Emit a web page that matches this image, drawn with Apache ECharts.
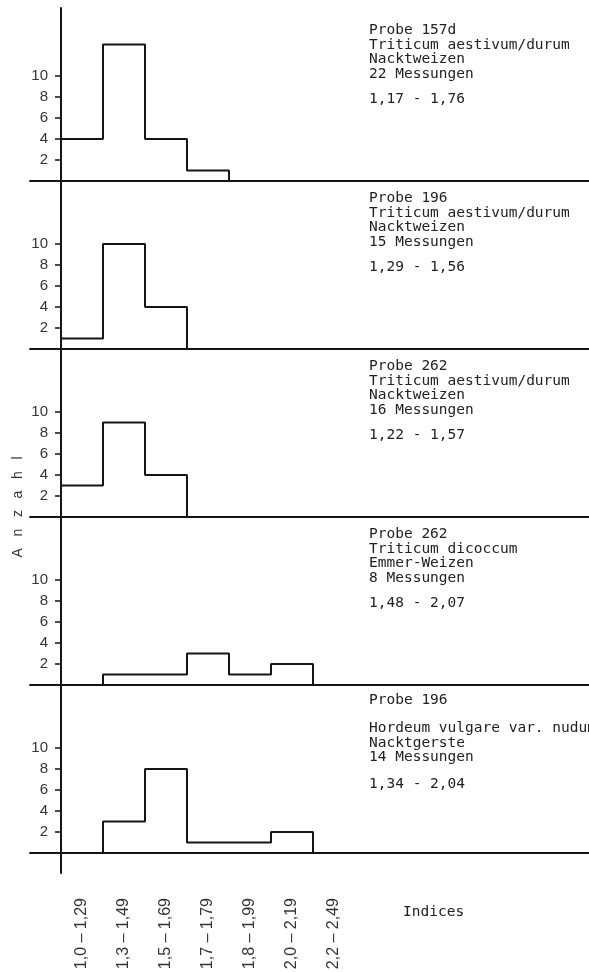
<!DOCTYPE html>
<html>
<head>
<meta charset="utf-8">
<script src="https://cdn.jsdelivr.net/npm/echarts@6/dist/echarts.min.js"></script>
<style>
html,body{margin:0;padding:0;background:#fff;}
#c{width:589px;height:972px;}
</style>
</head>
<body>
<div id="c"></div>
<script>
// ---- data ----
var binLabels = ['1,0 – 1,29','1,3 – 1,49','1,5 – 1,69','1,7 – 1,79','1,8 – 1,99','2,0 – 2,19','2,2 – 2,49'];
var yTicks = [2, 4, 6, 8, 10];
var counts157d = [4, 13, 4, 1];
var counts196a = [1, 10, 4];
var counts262a = [3, 9, 4];
var counts262b = [0, 1, 1, 3, 1, 2];
var counts196b = [0, 3, 8, 1, 1, 2];
var panelCounts = [counts157d, counts196a, counts262a, counts262b, counts196b];
var panelHead = [
  ['Probe 157d', 'Triticum aestivum/durum', 'Nacktweizen', '22 Messungen'],
  ['Probe 196', 'Triticum aestivum/durum', 'Nacktweizen', '15 Messungen'],
  ['Probe 262', 'Triticum aestivum/durum', 'Nacktweizen', '16 Messungen'],
  ['Probe 262', 'Triticum dicoccum', 'Emmer-Weizen', '8 Messungen'],
  ['Probe 196', 'Hordeum vulgare var. nudum', 'Nacktgerste', '14 Messungen']
];
var panelRange = ['1,17 - 1,76', '1,29 - 1,56', '1,22 - 1,57', '1,48 - 2,07', '1,34 - 2,04'];
var yTitle = 'A   n   z   a   h   l';
var xTitle = 'Indices';

// ---- layout ----
var axisX = 61, binPx = 42, unitPx = 10.5;
var firstBase = 181, panelGap = 168, topY = 8, bottomExt = 20;
var gLeft = 30;
var mono = '"DejaVu Sans Mono", "Liberation Mono", monospace';
var sans = '"Liberation Sans", Arial, sans-serif';
var ink = '#151515';

var grids = [], xAxes = [], yAxes = [], series = [], graphics = [];
panelCounts.forEach(function (cnt, k) {
  var base = firstBase + panelGap * k;
  var top = k === 0 ? topY : base - panelGap;
  var last = k === panelCounts.length - 1;
  var bottom = last ? base + bottomExt : base;
  grids.push({left: gLeft, right: 0, top: top, height: bottom - top,
    containLabel: false, outerBoundsMode: 'none'});
  xAxes.push({
    type: 'value', gridIndex: k,
    min: -(axisX - gLeft) / binPx, max: (589 - axisX) / binPx,
    axisLine: {show: true, onZero: true, lineStyle: {color: ink, width: 2}},
    axisTick: {show: false},
    splitLine: {show: false},
    axisLabel: last ? {
      show: true, customValues: binLabels.map(function (_, i) { return i + 0.5; }),
      rotate: 90, margin: 25, fontFamily: sans, fontSize: 16, color: '#333',
      formatter: function (v) { return binLabels[Math.floor(v)]; }
    } : {show: false}
  });
  yAxes.push({
    type: 'value', gridIndex: k, position: 'left',
    offset: -(axisX - gLeft),
    min: -(bottom - base) / unitPx, max: (base - top) / unitPx,
    axisLine: {show: true, onZero: false, lineStyle: {color: ink, width: 2}},
    axisTick: {show: true, customValues: yTicks, length: 6, lineStyle: {color: ink, width: 1.5}},
    axisLabel: {show: true, customValues: yTicks, margin: 13, fontFamily: sans, fontSize: 15, color: '#333'},
    splitLine: {show: false}
  });
  var pts = cnt.map(function (v, i) { return [i, v]; });
  pts.push([cnt.length, 0]);
  series.push({
    type: 'line', xAxisIndex: k, yAxisIndex: k, step: 'end', data: pts,
    symbol: 'none', clip: false, silent: true,
    lineStyle: {color: ink, width: 2}
  });
  // annotations
  var tx = 369, lh = 14.5;
  var head = panelHead[k];
  if (last) {
    graphics.push({type: 'text', left: tx, top: base - 153 - lh / 2,
      style: {text: head[0], font: '14.5px ' + mono, fill: '#222', lineHeight: lh}});
    graphics.push({type: 'text', left: tx, top: base - 125 - lh / 2,
      style: {text: head.slice(1).join('\n'), font: '14.5px ' + mono, fill: '#222', lineHeight: lh}});
    graphics.push({type: 'text', left: tx, top: base - 69 - lh / 2,
      style: {text: panelRange[k], font: '14.5px ' + mono, fill: '#222', lineHeight: lh}});
  } else {
    graphics.push({type: 'text', left: tx, top: base - 151 - lh / 2,
      style: {text: head.join('\n'), font: '14.5px ' + mono, fill: '#222', lineHeight: lh}});
    graphics.push({type: 'text', left: tx, top: base - 82 - lh / 2,
      style: {text: panelRange[k], font: '14.5px ' + mono, fill: '#222', lineHeight: lh}});
  }
});
graphics.push({type: 'text', x: 18, y: 507, rotation: Math.PI / 2,
  style: {text: yTitle, font: '14px ' + sans, fill: '#333', align: 'center', verticalAlign: 'middle'}});
graphics.push({type: 'text', x: 403, y: 912,
  style: {text: xTitle, font: '14.5px ' + mono, fill: '#222', align: 'left', verticalAlign: 'middle'}});

var chart = echarts.init(document.getElementById('c'), null, {renderer: 'canvas'});
chart.setOption({
  animation: false,
  backgroundColor: '#fff',
  grid: grids, xAxis: xAxes, yAxis: yAxes, series: series, graphic: graphics
});
</script>
</body>
</html>
